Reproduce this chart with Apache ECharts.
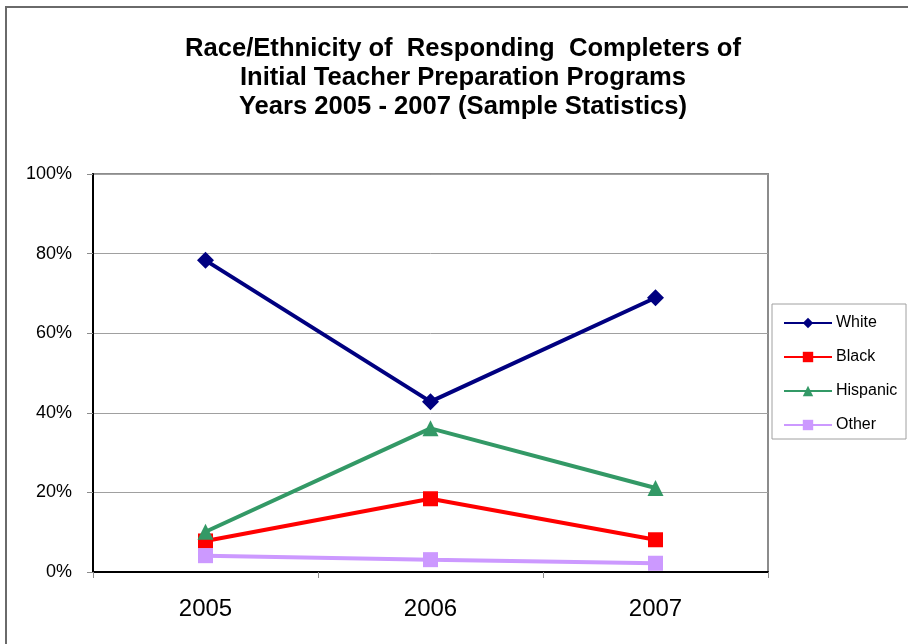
<!DOCTYPE html>
<html>
<head>
<meta charset="utf-8">
<script src="https://cdn.jsdelivr.net/npm/echarts@6/dist/echarts.min.js"></script>
<style>
  html, body { margin: 0; padding: 0; background: #fff; }
  #chart { width: 908px; height: 644px; }
</style>
</head>
<body>
<div id="chart"></div>
<script>
// Survey years and share of responding completers (percent) by group
const years = ['2005', '2006', '2007'];
const white = [78.3, 42.8, 68.9];
const black = [7.8, 18.4, 8.1];
const hispanic = [10.1, 36.1, 21.1];
const other = [4.1, 3.1, 2.2];
const yTicks = [0, 20, 40, 60, 80, 100];

const FONT = '"Liberation Sans", Arial, sans-serif';

const chart = echarts.init(document.getElementById('chart'), null, { renderer: 'canvas' });

function lineSeries(name, data, color, symbol, size) {
  return {
    name: name,
    type: 'line',
    data: data,
    symbol: symbol,
    symbolSize: size,
    showAllSymbol: true,
    lineStyle: { color: color, width: 4 },
    itemStyle: { color: color },
    emphasis: { disabled: true },
    animation: false
  };
}

chart.setOption({
  animation: false,
  backgroundColor: '#ffffff',
  title: {
    text: 'Race/Ethnicity of  Responding  Completers of\nInitial Teacher Preparation Programs\nYears 2005 - 2007 (Sample Statistics)',
    left: 463,
    top: 34,
    textAlign: 'center',
    padding: 0,
    textStyle: {
      fontFamily: FONT,
      fontWeight: 'bold',
      fontSize: 25.6,
      lineHeight: 29,
      color: '#000'
    }
  },
  graphic: [
    {
      // outer chart frame (left and top edges visible)
      type: 'rect',
      shape: { x: 6, y: 7, width: 1200, height: 1200 },
      style: { fill: 'none', stroke: '#6a6a6a', lineWidth: 2 },
      silent: true
    },
    {
      // legend frame
      type: 'rect',
      shape: { x: 772, y: 304, width: 134, height: 135 },
      style: { fill: '#fff', stroke: '#a0a0a0', lineWidth: 1 },
      silent: true,
      z: 0
    }
  ],
  legend: {
    orient: 'vertical',
    left: 783,
    top: 315,
    itemWidth: 48,
    itemHeight: 13,
    itemGap: 18,
    padding: 0,
    lineStyle: { width: 2 },
    textStyle: { fontFamily: FONT, fontSize: 16, color: '#000', padding: [0, 0, 0, -1] },
    data: ['White', 'Black', 'Hispanic', 'Other'],
    z: 5
  },
  grid: {
    left: 93,
    right: 140,
    top: 174,
    bottom: 72,
    show: true,
    borderColor: '#8c8c8c',
    borderWidth: 2,
    backgroundColor: '#fff'
  },
  xAxis: {
    type: 'category',
    data: years,
    boundaryGap: true,
    axisLine: { show: true, lineStyle: { color: '#000', width: 2 } },
    axisTick: { show: true, inside: false, length: 6, alignWithLabel: false, lineStyle: { color: '#8c8c8c', width: 1 } },
    axisLabel: { fontFamily: FONT, fontSize: 24, color: '#000', margin: 25 },
    splitLine: { show: false }
  },
  yAxis: {
    type: 'value',
    min: yTicks[0],
    max: yTicks[yTicks.length - 1],
    interval: yTicks[1] - yTicks[0],
    axisLine: { show: true, lineStyle: { color: '#000', width: 2 } },
    axisTick: { show: true, inside: false, length: 6, lineStyle: { color: '#8c8c8c', width: 1 } },
    axisLabel: { fontFamily: FONT, fontSize: 18, color: '#000', margin: 21, formatter: '{value}%' },
    splitLine: { show: true, lineStyle: { color: '#a0a0a0', width: 1 } }
  },
  series: [
    lineSeries('White', white, '#000080', 'diamond', 17),
    lineSeries('Black', black, '#ff0000', 'rect', 15),
    lineSeries('Hispanic', hispanic, '#339966', 'triangle', 16),
    lineSeries('Other', other, '#cc99ff', 'rect', 15)
  ]
});
</script>
</body>
</html>
